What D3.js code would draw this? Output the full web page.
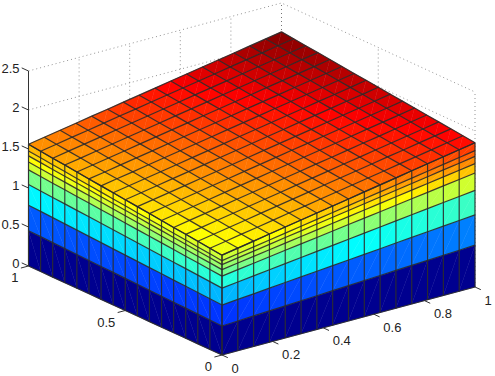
<!DOCTYPE html>
<html>
<head>
<meta charset="utf-8">
<script src="https://d3js.org/d3.v7.min.js"></script>
<style>
  html, body { margin: 0; padding: 0; background: white; }
  svg { display: block; }
  text { font-family: "Liberation Sans", Helvetica, Arial, sans-serif; font-size: 13px; fill: #222; }
</style>
</head>
<body>
<svg id="display"></svg>
<script>
// values
const xTicks = [0, 0.2, 0.4, 0.6, 0.8, 1]
const xTickLabels = ['0', '0.2', '0.4', '0.6', '0.8', '1']
const yTicks = [0, 0.5, 1]
const yTickLabels = ['0', '0.5', '1']
const zTicks = [0, 0.5, 1, 1.5, 2, 2.5]
const zTickLabels = ['0', '0.5', '1', '1.5', '2', '2.5']

const gridX = [0, 0.0625, 0.125, 0.1875, 0.25, 0.3125, 0.375, 0.4375, 0.5, 0.5625, 0.625, 0.6875, 0.75, 0.8125, 0.875, 0.9375, 1]
const gridY = [0, 0.0625, 0.125, 0.1875, 0.25, 0.3125, 0.375, 0.4375, 0.5, 0.5625, 0.625, 0.6875, 0.75, 0.8125, 0.875, 0.9375, 1]

// height of the top surface, one row per gridY value
const topSurface = [
  [1.280,1.316,1.351,1.387,1.423,1.458,1.494,1.529,1.565,1.601,1.636,1.672,1.708,1.743,1.779,1.814,1.850],
  [1.298,1.333,1.369,1.404,1.440,1.476,1.511,1.547,1.583,1.618,1.654,1.689,1.725,1.761,1.796,1.832,1.868],
  [1.315,1.351,1.386,1.422,1.458,1.493,1.529,1.564,1.600,1.636,1.671,1.707,1.743,1.778,1.814,1.849,1.885],
  [1.333,1.368,1.404,1.439,1.475,1.511,1.546,1.582,1.618,1.653,1.689,1.724,1.760,1.796,1.831,1.867,1.903],
  [1.350,1.386,1.421,1.457,1.493,1.528,1.564,1.599,1.635,1.671,1.706,1.742,1.778,1.813,1.849,1.884,1.920],
  [1.368,1.403,1.439,1.474,1.510,1.546,1.581,1.617,1.653,1.688,1.724,1.759,1.795,1.831,1.866,1.902,1.938],
  [1.385,1.421,1.456,1.492,1.528,1.563,1.599,1.634,1.670,1.706,1.741,1.777,1.813,1.848,1.884,1.919,1.955],
  [1.403,1.438,1.474,1.509,1.545,1.581,1.616,1.652,1.688,1.723,1.759,1.794,1.830,1.866,1.901,1.937,1.973],
  [1.420,1.456,1.491,1.527,1.563,1.598,1.634,1.669,1.705,1.741,1.776,1.812,1.848,1.883,1.919,1.954,1.990],
  [1.438,1.473,1.509,1.544,1.580,1.616,1.651,1.687,1.723,1.758,1.794,1.829,1.865,1.901,1.936,1.972,2.008],
  [1.455,1.491,1.526,1.562,1.598,1.633,1.669,1.704,1.740,1.776,1.811,1.847,1.883,1.918,1.954,1.989,2.025],
  [1.473,1.508,1.544,1.579,1.615,1.651,1.686,1.722,1.758,1.793,1.829,1.864,1.900,1.936,1.971,2.007,2.043],
  [1.490,1.526,1.561,1.597,1.633,1.668,1.704,1.739,1.775,1.811,1.846,1.882,1.918,1.953,1.989,2.024,2.060],
  [1.508,1.543,1.579,1.614,1.650,1.686,1.721,1.757,1.793,1.828,1.864,1.899,1.935,1.971,2.006,2.042,2.078],
  [1.525,1.561,1.596,1.632,1.668,1.703,1.739,1.774,1.810,1.846,1.881,1.917,1.953,1.988,2.024,2.059,2.095],
  [1.543,1.578,1.614,1.649,1.685,1.721,1.756,1.792,1.828,1.863,1.899,1.934,1.970,2.006,2.041,2.077,2.113],
  [1.560,1.596,1.631,1.667,1.703,1.738,1.774,1.809,1.845,1.881,1.916,1.952,1.988,2.023,2.059,2.094,2.130]
]

// where each stacked layer starts, as a share of the top surface height
const layerShares = [0, 0.29, 0.5, 0.67, 0.79, 0.855, 0.905, 0.945, 1]

const jetStops = [0, 0.125, 0.375, 0.625, 0.875, 1]
const jetColors = ['#00008f', '#0000ff', '#00ffff', '#ffff00', '#ff0000', '#800000']

let width = 495
let height = 376
let originX = 222
let originY = 355

let svg = d3.select('#display')
svg.attr('width', width).attr('height', height)

// axis projection, each data axis adds to screen x and screen y
const xToLeft = d3.scaleLinear().domain([0, 1]).range([0, 253])
const xToTop = d3.scaleLinear().domain([0, 1]).range([0, -68])
const yToLeft = d3.scaleLinear().domain([0, 1]).range([0, -193.5])
const yToTop = d3.scaleLinear().domain([0, 1]).range([0, -89])
const zToTop = d3.scaleLinear().domain([0, 2.5]).range([0, -195])

const colorScale = d3.scaleLinear().domain([0, 2.1]).range([0, 1]).clamp(true)
const jet = d3.scaleLinear().domain(jetStops).range(jetColors)

function project(x, y, z) {
  return [originX + xToLeft(x) + yToLeft(y), originY + xToTop(x) + yToTop(y) + zToTop(z)]
}

const line = d3.line()

function drawLine(group, pts, cls) {
  group.append('path').attr('class', cls).attr('d', line(pts)).attr('fill', 'none')
}

// dotted walls behind the surface
let walls = svg.append('g')
  .attr('stroke', '#666')
  .attr('stroke-width', 0.7)
  .attr('stroke-dasharray', '1 3')

zTicks.forEach((z) => {
  drawLine(walls, [project(0, 1, z), project(1, 1, z), project(1, 0, z)], 'wall')
})
xTicks.forEach((x) => {
  drawLine(walls, [project(x, 1, 0), project(x, 1, 2.5)], 'wall')
})
yTicks.forEach((y) => {
  drawLine(walls, [project(1, y, 0), project(1, y, 2.5)], 'wall')
})

// every cell is two triangles, split corner to corner, thin stroke keeps the seam faint
function drawCell(group, a, b, c, d, color) {
  group.append('path').attr('d', line([a, b, c]) + 'Z').attr('fill', color).attr('stroke', color).attr('stroke-width', 0.45)
  group.append('path').attr('d', line([a, c, d]) + 'Z').attr('fill', color).attr('stroke', color).attr('stroke-width', 0.45)
}

let faces = svg.append('g')

// side along y = 0
d3.range(layerShares.length - 1).forEach((k) => {
  d3.range(gridX.length - 1).forEach((i) => {
    let s0 = topSurface[0][i]
    let s1 = topSurface[0][i + 1]
    drawCell(faces,
      project(gridX[i], 0, s0 * layerShares[k]),
      project(gridX[i + 1], 0, s1 * layerShares[k]),
      project(gridX[i + 1], 0, s1 * layerShares[k + 1]),
      project(gridX[i], 0, s0 * layerShares[k + 1]),
      jet(colorScale(s0 * layerShares[k])))
  })
})

// side along x = 0
d3.range(layerShares.length - 1).forEach((k) => {
  d3.range(gridY.length - 1).forEach((j) => {
    let s0 = topSurface[j][0]
    let s1 = topSurface[j + 1][0]
    drawCell(faces,
      project(0, gridY[j], s0 * layerShares[k]),
      project(0, gridY[j + 1], s1 * layerShares[k]),
      project(0, gridY[j + 1], s1 * layerShares[k + 1]),
      project(0, gridY[j], s0 * layerShares[k + 1]),
      jet(colorScale(s0 * layerShares[k])))
  })
})

// top surface
d3.range(gridY.length - 1).forEach((j) => {
  d3.range(gridX.length - 1).forEach((i) => {
    drawCell(faces,
      project(gridX[i], gridY[j], topSurface[j][i]),
      project(gridX[i + 1], gridY[j], topSurface[j][i + 1]),
      project(gridX[i + 1], gridY[j + 1], topSurface[j + 1][i + 1]),
      project(gridX[i], gridY[j + 1], topSurface[j + 1][i]),
      jet(colorScale(topSurface[j][i])))
  })
})

// mesh lines on top of the faces
let mesh = svg.append('g')
  .attr('stroke', '#2a2a2a')
  .attr('stroke-width', 1.2)
  .attr('stroke-opacity', 0.9)

gridY.forEach((y, j) => {
  drawLine(mesh, gridX.map((x, i) => project(x, y, topSurface[j][i])), 'mesh')
})
gridX.forEach((x, i) => {
  drawLine(mesh, gridY.map((y, j) => project(x, y, topSurface[j][i])), 'mesh')
})
layerShares.forEach((share) => {
  drawLine(mesh, gridX.map((x, i) => project(x, 0, topSurface[0][i] * share)), 'mesh')
  drawLine(mesh, gridY.map((y, j) => project(0, y, topSurface[j][0] * share)), 'mesh')
})
gridX.forEach((x, i) => {
  drawLine(mesh, [project(x, 0, 0), project(x, 0, topSurface[0][i])], 'mesh')
})
gridY.forEach((y, j) => {
  drawLine(mesh, [project(0, y, 0), project(0, y, topSurface[j][0])], 'mesh')
})

// axes and ticks
let axes = svg.append('g').attr('stroke', '#333').attr('stroke-width', 1)

drawLine(axes, [project(0, 1, 0), project(0, 1, 2.5)], 'axis')
zTicks.forEach((z) => {
  drawLine(axes, [project(0, 1, z), project(0, 1.035, z)], 'tick')
})
yTicks.forEach((y) => {
  drawLine(axes, [project(0, y, 0), project(-0.03, y, 0)], 'tick')
})
xTicks.forEach((x) => {
  drawLine(axes, [project(x, 0, 0), project(x, -0.03, 0)], 'tick')
})

// tick labels
zTicks.forEach((z, i) => {
  let p = project(0, 1, z)
  svg.append('text')
    .attr('x', p[0] - 9)
    .attr('y', p[1] + 2)
    .attr('text-anchor', 'end')
    .text(zTickLabels[i])
})
yTicks.forEach((y, i) => {
  let p = project(0, y, 0)
  svg.append('text')
    .attr('x', p[0] - 10)
    .attr('y', p[1] + 16)
    .attr('text-anchor', 'end')
    .text(yTickLabels[i])
})
xTicks.forEach((x, i) => {
  let p = project(x, 0, 0)
  svg.append('text')
    .attr('x', p[0] + 9.5)
    .attr('y', p[1] + 17.5)
    .attr('text-anchor', 'start')
    .text(xTickLabels[i])
})
</script>
</body>
</html>
